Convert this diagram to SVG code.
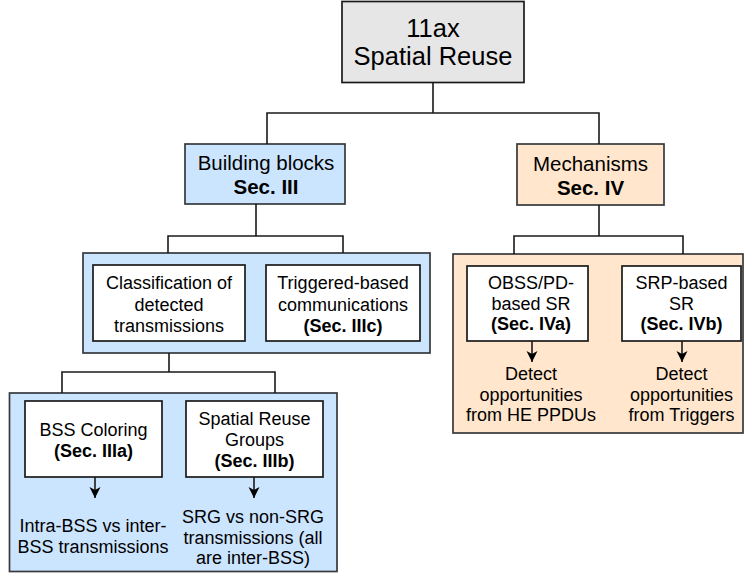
<svg xmlns="http://www.w3.org/2000/svg" width="745" height="573" viewBox="0 0 745 573">
<style>
text{font-family:"Liberation Sans",Arial,Helvetica,sans-serif;fill:#000;text-anchor:middle}
.t18{font-size:18px}
.b18{font-size:18px;font-weight:bold}
.t20{font-size:20.5px}
.b20{font-size:20.5px;font-weight:bold}
.t25{font-size:25.5px}
.box{fill:#fff;stroke:#1a1a1a;stroke-width:1.7}
.blue{fill:#cce5ff;stroke:#36393d;stroke-width:1.7}
.orange{fill:#ffe6cc;stroke:#36393d;stroke-width:1.7}
.gray{fill:#e6e6e6;stroke:#1a1a1a;stroke-width:1.7}
.conn{fill:none;stroke:#1a1a1a;stroke-width:1.6}
</style>
<defs>
<marker id="arr" markerUnits="userSpaceOnUse" markerWidth="13" markerHeight="13" refX="11" refY="6.5" orient="auto" viewBox="0 0 13 13">
<path d="M0,1 L11,6.5 L0,12 L3,6.5 z" fill="#000"/>
</marker>
</defs>

<g id="root">
<rect class="gray" x="342" y="1.5" width="182" height="81"/>
<text class="t25" x="433" y="37">11ax</text>
<text class="t25" x="433" y="65">Spatial Reuse</text>
</g>

<g id="building-blocks">
<rect class="blue" x="185" y="144" width="160" height="60"/>
<text class="t20" x="266" y="170">Building blocks</text>
<text class="b20" x="266" y="194">Sec. III</text>
</g>

<g id="mechanisms">
<rect class="orange" x="517" y="144" width="147" height="61"/>
<text class="t20" x="590.5" y="171">Mechanisms</text>
<text class="b20" x="590.5" y="195">Sec. IV</text>
</g>

<g id="bb-container">
<rect class="blue" x="83" y="253" width="347" height="100"/>
</g>

<g id="classification">
<rect class="box" x="93" y="265" width="152" height="76"/>
<text class="t18" x="169" y="289">Classification of</text>
<text class="t18" x="169" y="310.5">detected</text>
<text class="t18" x="169" y="332">transmissions</text>
</g>

<g id="triggered">
<rect class="box" x="266" y="265" width="154" height="76"/>
<text class="t18" x="343" y="289">Triggered-based</text>
<text class="t18" x="343" y="310.5">communications</text>
<text class="b18" x="343" y="332">(Sec. IIIc)</text>
</g>

<g id="mech-container">
<rect class="orange" x="453" y="254" width="290" height="179"/>
</g>

<g id="obss">
<rect class="box" x="467" y="266" width="121" height="75"/>
<text class="t18" x="531" y="289">OBSS/PD-</text>
<text class="t18" x="531" y="309.5">based SR</text>
<text class="b18" x="531" y="330">(Sec. IVa)</text>
</g>

<g id="srp">
<rect class="box" x="622" y="266" width="119" height="75"/>
<text class="t18" x="681.5" y="289">SRP-based</text>
<text class="t18" x="681.5" y="309.5">SR</text>
<text class="b18" x="681.5" y="330">(Sec. IVb)</text>
</g>

<g id="obss-result">
<text class="t18" x="531" y="380">Detect</text>
<text class="t18" x="531" y="400.5">opportunities</text>
<text class="t18" x="531" y="421">from HE PPDUs</text>
</g>

<g id="srp-result">
<text class="t18" x="681.5" y="380">Detect</text>
<text class="t18" x="681.5" y="400.5">opportunities</text>
<text class="t18" x="681.5" y="421">from Triggers</text>
</g>

<g id="class-container">
<rect class="blue" x="9.5" y="393" width="327.5" height="178.5"/>
</g>

<g id="bss-coloring">
<rect class="box" x="25" y="401" width="137" height="76"/>
<text class="t18" x="93.5" y="435.5">BSS Coloring</text>
<text class="b18" x="93.5" y="456.5">(Sec. IIIa)</text>
</g>

<g id="srg">
<rect class="box" x="186" y="401" width="137" height="76"/>
<text class="t18" x="254.5" y="425">Spatial Reuse</text>
<text class="t18" x="254.5" y="446">Groups</text>
<text class="b18" x="254.5" y="467">(Sec. IIIb)</text>
</g>

<g id="bss-result">
<text class="t18" x="93" y="532">Intra-BSS vs inter-</text>
<text class="t18" x="93" y="553">BSS transmissions</text>
</g>

<g id="srg-result">
<text class="t18" x="253" y="523">SRG vs non-SRG</text>
<text class="t18" x="253" y="543.5">transmissions (all</text>
<text class="t18" x="253" y="564">are inter-BSS)</text>
</g>

<g id="connectors">
<path class="conn" d="M433 82.5 V113 H267 V144 M433 113 H599 V144"/>
<path class="conn" d="M256 204 V236 H168 V253 M256 236 H343 V253"/>
<path class="conn" d="M599 205 V236 H514 V254 M599 236 H683 V254"/>
<path class="conn" d="M169 353 V372 H62 V393 M169 372 H275 V393"/>
<path class="conn" d="M95 477 V498" marker-end="url(#arr)"/>
<path class="conn" d="M254 477 V498" marker-end="url(#arr)"/>
<path class="conn" d="M532 341 V362" marker-end="url(#arr)"/>
<path class="conn" d="M682 341 V362" marker-end="url(#arr)"/>
</g>
</svg>
